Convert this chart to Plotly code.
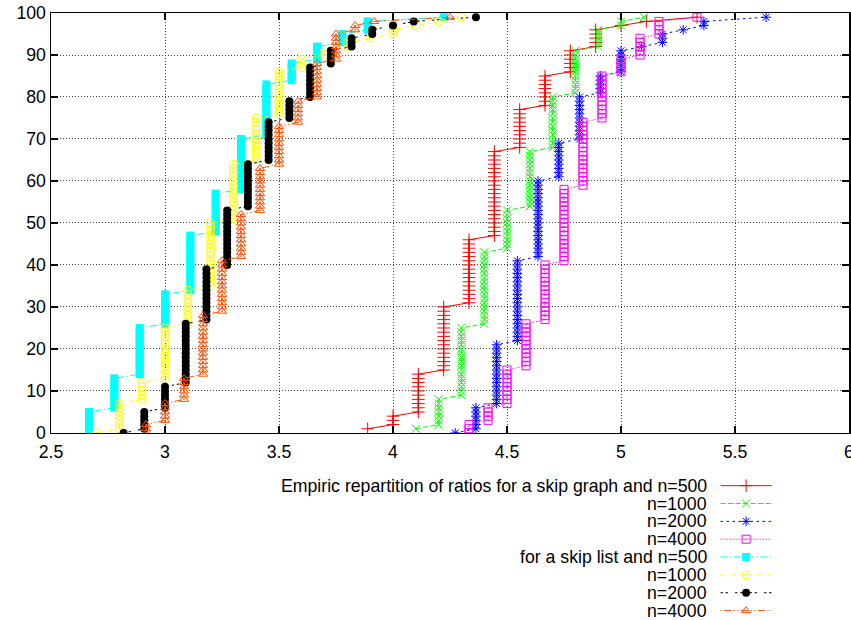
import plotly.graph_objects as go

# ---------------- data ----------------
# x value of each step = hops / log-size  (ratios), y = cumulative percentage
# skip graph
sg500_hops = [35, 36, 37, 38, 39, 40, 41, 42, 43, 44, 45, 46, 48]
sg500_den = 9
sg500_tops = [1, 4, 14, 30, 46, 67, 77, 85, 91, 96, 97, 98, 99]
sg500_start = 1

sg1000_hops = [41, 42, 43, 44, 45, 46, 47, 48, 49, 50, 51]
sg1000_den = 10
sg1000_tops = [1, 8, 25, 43, 53, 67, 80, 91, 96, 98, 99]
sg1000_start = 1

sg2000_hops = [47, 48, 49, 50, 51, 52, 53, 54, 55, 56, 57, 58, 59, 62]
sg2000_den = 11
sg2000_tops = [0, 6, 21, 41, 60, 69, 80, 85, 91, 92, 95, 96, 98, 99]
sg2000_start = 0

sg4000_hops = [52, 53, 54, 55, 56, 57, 58, 59, 60, 61, 62, 64]
sg4000_den = 12
sg4000_tops = [2, 6, 15, 26, 40, 58, 74, 85, 89, 94, 98, 99]
sg4000_start = 0

# skip list
sl500_hops = [24, 25, 26, 27, 28, 29, 30, 31, 32, 33, 34, 35, 38]
sl500_den = 9
sl500_tops = [5, 13, 25, 33, 47, 57, 70, 83, 88, 92, 95, 98, 99]
sl500_start = 0

sl1000_hops = [27, 28, 29, 30, 31, 32, 33, 34, 35, 36, 37, 38, 39, 40, 41, 42, 43]
sl1000_den = 10
sl1000_tops = [0, 7, 12, 25, 34, 50, 64, 75, 86, 89, 91, 93, 94, 96, 97, 98, 99]
sl1000_start = 0

sl2000_hops = [31, 32, 33, 34, 35, 36, 37, 38, 39, 40, 41, 42, 43, 44, 45, 48]
sl2000_den = 11
sl2000_tops = [0, 5, 11, 26, 39, 53, 64, 74, 79, 87, 91, 94, 96, 97, 98, 99]
sl2000_start = 0

sl4000_hops = [35, 36, 37, 38, 39, 40, 41, 42, 43, 44, 45, 46, 47, 51]
sl4000_den = 12
sl4000_tops = [2, 7, 13, 28, 41, 52, 63, 73, 79, 88, 95, 97, 98, 99]
sl4000_start = 0

legend_labels = [
    "Empiric repartition of ratios for a skip graph and n=500",
    "n=1000", "n=2000", "n=4000",
    "for a skip list and n=500",
    "n=1000", "n=2000", "n=4000",
]

x_ticks = [2.5, 3, 3.5, 4, 4.5, 5, 5.5, 6]
x_tick_text = ["2.5", "3", "3.5", "4", "4.5", "5", "5.5", "6"]
y_ticks = [0, 10, 20, 30, 40, 50, 60, 70, 80, 90, 100]

# ---------------- styles ----------------
FONT = "Liberation Sans, Arial, sans-serif"
FS = 17.7
styles = [
    dict(color="#ff0000", dash="solid", symbol="cross-thin-open", size=9),
    dict(color="#00ff00", dash="5px,2.5px", symbol="x-thin-open", size=8),
    dict(color="#0000ff", dash="2.5px,3.5px", symbol="asterisk-open", size=8),
    dict(color="#ff00ff", dash="1.2px,1.8px", symbol="square-open-dot", size=8),
    dict(color="#00ffff", dash="7px,2.5px,1.2px,2.5px", symbol="square", size=8),
    dict(color="#ffff00", dash="3.5px,3.5px,1.2px,3.5px", symbol="circle-open-dot", size=8),
    dict(color="#000000", dash="2.5px,2.5px,2.5px,7px", symbol="circle", size=8),
    dict(color="#ff4d00", dash="1.2px,2.5px,7px,2.5px,1.2px,2.5px", symbol="triangle-up-open-dot", size=8),
]

series = [
    (sg500_hops, sg500_den, sg500_tops, sg500_start),
    (sg1000_hops, sg1000_den, sg1000_tops, sg1000_start),
    (sg2000_hops, sg2000_den, sg2000_tops, sg2000_start),
    (sg4000_hops, sg4000_den, sg4000_tops, sg4000_start),
    (sl500_hops, sl500_den, sl500_tops, sl500_start),
    (sl1000_hops, sl1000_den, sl1000_tops, sl1000_start),
    (sl2000_hops, sl2000_den, sl2000_tops, sl2000_start),
    (sl4000_hops, sl4000_den, sl4000_tops, sl4000_start),
]


def ecdf_points(hops, den, tops, start):
    xs, ys = [], []
    y = start
    for h, t in zip(hops, tops):
        while y <= t:
            xs.append(h / den)
            ys.append(y)
            y += 1
    return xs, ys


fig = go.Figure()

for (hops, den, tops, start), st in zip(series, styles):
    xs, ys = ecdf_points(hops, den, tops, start)
    open_marker = "open" in st["symbol"]
    fig.add_trace(go.Scatter(
        x=xs, y=ys, mode="lines+markers", showlegend=False,
        line=dict(color=st["color"], width=1, dash=st["dash"]),
        marker=dict(symbol=st["symbol"], size=st["size"], color=st["color"],
                    line=dict(width=1, color=st["color"]) if open_marker else dict(width=0)),
        xaxis="x", yaxis="y",
    ))

# ---------------- page geometry (pixels) ----------------
# the captured page comes out slightly squeezed, so the layout is drawn on a
# slightly larger canvas (KX, KY) to land on the target pixels of the 851x620 picture
W, H = 857, 630
KX = W / 851.0
KY = H / 620.0
ML = 51 * KX                   # plot frame: left 51, right 846 (target pixels)
MR = (851 - 846) * KX
MT = 13 * KY
MB = 3
plot_bottom = 433 * KY

# ---------------- hand-made legend (text on the left, sample on the right) ----------------
row0, row_step = 485.7 * KY, 17.85 * KY
text_right = 707 * KX
samp_x0, samp_x1, samp_mid = 718 * KX, 769 * KX, 743.5 * KX

for i, (lab, st) in enumerate(zip(legend_labels, styles)):
    yy = row0 + i * row_step
    open_marker = "open" in st["symbol"]
    fig.add_trace(go.Scatter(
        x=[samp_x0, samp_x1], y=[yy, yy], mode="lines", showlegend=False,
        line=dict(color=st["color"], width=1, dash=st["dash"]),
        xaxis="x2", yaxis="y2", hoverinfo="skip",
    ))
    fig.add_trace(go.Scatter(
        x=[samp_mid], y=[yy], mode="markers", showlegend=False,
        marker=dict(symbol=st["symbol"], size=st["size"], color=st["color"],
                    line=dict(width=1, color=st["color"]) if open_marker else dict(width=0)),
        xaxis="x2", yaxis="y2", hoverinfo="skip",
    ))
    fig.add_annotation(x=text_right, y=yy, xref="x2", yref="y2", text=lab,
                       showarrow=False, xanchor="right", yanchor="middle",
                       font=dict(family=FONT, size=FS, color="black"))

paper_h = H - MT - MB
y_dom0 = (H - MB - plot_bottom) / paper_h

axis_common = dict(
    showline=True, linecolor="black", linewidth=1.5, mirror="ticks",
    ticks="inside", ticklen=7, tickwidth=1.5, tickcolor="black",
    showgrid=True, gridcolor="#444444", gridwidth=1, griddash="1px,2px",
    zeroline=False, ticklabeloverflow="allow",
    tickfont=dict(family=FONT, size=FS, color="black"),
)

fig.update_layout(
    width=W, height=H,
    margin=dict(l=ML, r=MR, t=MT, b=MB, pad=0),
    paper_bgcolor="white", plot_bgcolor="rgba(0,0,0,0)",
    font=dict(family=FONT, size=FS, color="black"),
    showlegend=False,
    xaxis=dict(range=[2.5, 6], tickvals=x_ticks, ticktext=x_tick_text,
               domain=[0, 1], anchor="y", ticklabelstandoff=2, **axis_common),
    yaxis=dict(range=[0, 100], tickvals=y_ticks, domain=[y_dom0, 1],
               anchor="x", **axis_common),
    xaxis2=dict(range=[ML, W - MR], domain=[0, 1], anchor="y2", visible=False,
                fixedrange=True),
    yaxis2=dict(range=[H - MB, MT], domain=[0, 1], anchor="x2", visible=False,
                fixedrange=True),
)

# remove the default 8px page margin so the figure sits at the window's top-left corner
fig.write_html(
    "out.html",
    config={"displayModeBar": False, "staticPlot": True},
    post_script="document.body.style.margin='0';document.body.style.overflow='hidden';",
)
